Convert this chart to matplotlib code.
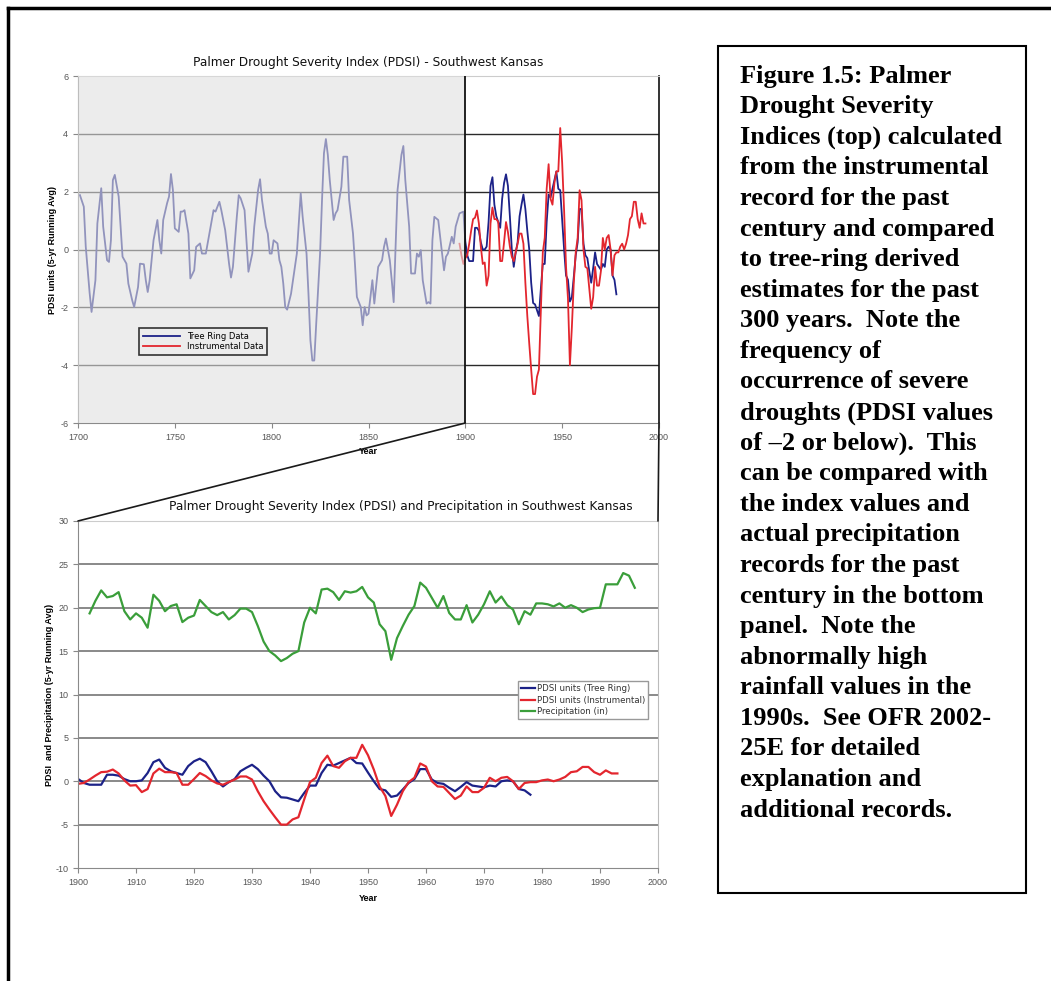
import matplotlib
matplotlib.use("Agg")
import matplotlib.pyplot as plt
from matplotlib.lines import Line2D
from matplotlib.patches import ConnectionPatch, Rectangle

plt.rcParams["axes.unicode_minus"] = False

# Tree-ring PDSI (5-yr running avg), 1700-1899
tree_years_early = [
    1701, 1703, 1704, 1706, 1707, 1709, 1710, 1712, 1713, 1715, 1716, 1717, 1718,
    1719, 1721, 1722, 1723, 1725, 1726, 1728, 1729, 1731, 1732, 1734, 1735, 1736,
    1737, 1739, 1741, 1742, 1743, 1744, 1746, 1747, 1748, 1749, 1750, 1752, 1753,
    1754, 1755, 1757, 1758, 1760, 1761, 1763, 1764, 1766, 1768, 1770, 1771, 1773,
    1774, 1776, 1778, 1779, 1780, 1782, 1783, 1784, 1786, 1787, 1788, 1790, 1791,
    1793, 1794, 1795, 1797, 1798, 1799, 1800, 1801, 1803, 1804, 1805, 1806, 1807,
    1808, 1810, 1811, 1813, 1815, 1816, 1818, 1819, 1820, 1821, 1822, 1823, 1825,
    1826, 1827, 1828, 1829, 1830, 1832, 1833, 1834, 1836, 1837, 1839, 1840, 1842,
    1843, 1844, 1846, 1847, 1848, 1849, 1850, 1852, 1853, 1855, 1857, 1858, 1859,
    1861, 1862, 1863, 1864, 1865, 1867, 1868, 1869, 1871, 1872, 1874, 1875, 1876,
    1877, 1878, 1880, 1881, 1882, 1883, 1884, 1886, 1888, 1889, 1890, 1891, 1893,
    1894, 1895, 1897, 1899,
]
tree_pdsi_early = [
    1.88, 1.48, 0.10, -1.50, -2.16, -1.06, 0.90, 2.12, 0.79, -0.37, -0.43, 0.32, 2.40,
    2.58, 1.83, 0.79, -0.25, -0.49, -1.18, -1.76, -1.99, -1.30, -0.49, -0.51, -1.06, -1.47,
    -1.06, 0.32, 1.02, 0.32, -0.14, 1.02, 1.60, 1.83, 2.61, 2.06, 0.73, 0.61, 1.31,
    1.31, 1.36, 0.55, -1.00, -0.72, 0.09, 0.21, -0.14, -0.14, 0.61, 1.36, 1.31, 1.65,
    1.36, 0.67, -0.49, -0.97, -0.60, 1.13, 1.88, 1.77, 1.36, 0.32, -0.77, -0.14, 0.79,
    2.06, 2.43, 1.71, 0.79, 0.55, -0.14, -0.14, 0.32, 0.21, -0.37, -0.60, -1.18, -1.99,
    -2.08, -1.53, -1.06, -0.14, 1.94, 1.13, -0.14, -1.53, -3.14, -3.84, -3.84, -2.57, -0.14,
    1.71, 3.33, 3.82, 3.27, 2.40, 1.02, 1.25, 1.36, 2.17, 3.21, 3.21, 1.71, 0.55,
    -0.49, -1.64, -1.99, -2.62, -1.99, -2.28, -2.22, -1.06, -1.87, -0.60, -0.37, 0.09, 0.38,
    -0.37, -1.06, -1.82, 0.09, 2.06, 3.27, 3.58, 2.40, 0.79, -0.83, -0.83, -0.14, -0.25,
    -0.02, -1.06, -1.87, -1.82, -1.87, 0.32, 1.13, 1.02, -0.14, -0.72, -0.25, -0.14, 0.44,
    0.21, 0.79, 1.25, 1.31,
]

# Tree-ring PDSI, 1900-1978 (both panels)
tree_years_late = list(range(1900, 1979))
tree_pdsi_late = [
    0.27, -0.2, -0.4, -0.4, -0.4, 0.75, 0.75, 0.65, 0.25, 0.0,
    0.0, 0.1, 0.95, 2.2, 2.5, 1.55, 1.15, 0.95, 0.75, 1.75,
    2.3, 2.6, 2.2, 1.15, 0.0, -0.6, -0.1, 0.25, 1.15, 1.55,
    1.9, 1.4, 0.65, 0.0, -1.15, -1.85, -1.9, -2.1, -2.3, -1.35,
    -0.5, -0.5, 0.95, 1.9, 1.8, 2.1, 2.4, 2.7, 2.1, 2.05,
    1.0, 0.0, -0.9, -1.05, -1.8, -1.65, -0.95, -0.2, 0.25, 1.4,
    1.4, 0.2, -0.2, -0.3, -0.75, -1.15, -0.65, -0.1, -0.5, -0.6,
    -0.7, -0.5, -0.6, 0.0, 0.1, 0.0, -0.9, -1.05, -1.55,
]

# Instrumental PDSI, 1897-1993
inst_years = list(range(1897, 1994))
inst_pdsi = [
    0.2, -0.2, -0.5, -0.3, -0.2, 0.2, 0.65, 1.05, 1.1, 1.35,
    0.9, 0.1, -0.5, -0.45, -1.25, -0.9, 0.9, 1.45, 1.05, 1.05,
    0.95, -0.4, -0.4, 0.25, 0.95, 0.6, 0.1, -0.25, -0.4, -0.1,
    0.2, 0.55, 0.55, 0.2, -1.15, -2.3, -3.25, -4.15, -5.0, -5.0,
    -4.4, -4.15, -2.1, -0.1, 0.4, 2.1, 2.95, 1.75, 1.55, 2.3,
    2.7, 2.7, 4.2, 3.0, 1.35, -0.6, -1.7, -4.0, -2.7, -1.15,
    -0.1, 0.4, 2.05, 1.7, 0.0, -0.6, -0.65, -1.35, -2.05, -1.65,
    -0.6, -1.25, -1.25, -0.75, 0.4, 0.0, 0.4, 0.5, 0.0, -0.9,
    -0.2, -0.1, -0.1, 0.1, 0.2, 0.0, 0.2, 0.5, 1.05, 1.15,
    1.65, 1.65, 1.05, 0.75, 1.25, 0.9, 0.9,
]

# Precipitation (in), 1902-1996
precip_years = list(range(1902, 1997))
precip_in = [
    19.35, 20.8, 22.0, 21.2, 21.35, 21.8, 19.6, 18.65, 19.35, 18.85,
    17.7, 21.5, 20.8, 19.6, 20.2, 20.4, 18.35, 18.85, 19.1, 20.9,
    20.2, 19.5, 19.15, 19.5, 18.65, 19.15, 19.9, 19.9, 19.5, 17.9,
    16.1, 15.0, 14.5, 13.85, 14.2, 14.7, 15.0, 18.3, 20.0, 19.35,
    22.1, 22.2, 21.8, 20.9, 21.9, 21.75, 21.9, 22.4, 21.2, 20.6,
    18.1, 17.3, 14.0, 16.5, 17.9, 19.2, 20.2, 22.9, 22.3, 21.15,
    20.0, 21.35, 19.4, 18.65, 18.65, 20.3, 18.3, 19.2, 20.4, 21.9,
    20.6, 21.3, 20.3, 19.8, 18.1, 19.6, 19.2, 20.5, 20.5, 20.4,
    20.15, 20.5, 20.0, 20.3, 20.0, 19.5, 19.8, 19.95, 20.0, 22.7,
    22.7, 22.7, 24.0, 23.7, 22.3,
]

caption = [
    "Figure 1.5: Palmer",
    "Drought Severity",
    "Indices (top) calculated",
    "from the instrumental",
    "record for the past",
    "century and compared",
    "to tree-ring derived",
    "estimates for the past",
    "300 years.  Note the",
    "frequency of",
    "occurrence of severe",
    "droughts (PDSI values",
    "of \u20132 or below).  This",
    "can be compared with",
    "the index values and",
    "actual precipitation",
    "records for the past",
    "century in the bottom",
    "panel.  Note the",
    "abnormally high",
    "rainfall values in the",
    "1990s.  See OFR 2002-",
    "25E for detailed",
    "explanation and",
    "additional records.",
]

NAVY = "#1c2288"
RED = "#e3262e"
GREEN = "#3a9e3a"
W, H = 1051, 981


def px(x, y):
    """pixel position (from top-left) -> figure fraction"""
    return x / W, 1 - y / H


def style_axes(ax):
    ax.tick_params(axis="both", labelsize=6.5, labelcolor="#555555", colors="#888888",
                   length=3.5, width=0.8, direction="out")
    for lab in ax.get_xticklabels() + ax.get_yticklabels():
        lab.set_color("#555555")
        lab.set_family("Liberation Sans")
    ax.spines["left"].set_color("#8a8a8a")
    ax.spines["bottom"].set_color("#8a8a8a")
    ax.spines["top"].set_color("#cccccc")


fig = plt.figure(figsize=(W / 100, H / 100), dpi=100)

# ---- top panel: 300-yr record
ax1 = fig.add_axes([78 / W, 1 - 423 / H, 581 / W, 347 / H])
ax1.plot(tree_years_early + tree_years_late, tree_pdsi_early + tree_pdsi_late,
         color=NAVY, lw=1.3, zorder=2, label="Tree Ring Data")
ax1.plot(inst_years, inst_pdsi, color=RED, lw=1.3, zorder=2, label="Instrumental Data")
ax1.set_xlim(1700, 2000)
ax1.set_ylim(-6, 6)
ax1.set_xticks(range(1700, 2001, 50))
ax1.set_yticks(range(-6, 7, 2))
ax1.yaxis.grid(True, color="#2a2a2a", lw=1.0)
ax1.set_axisbelow(True)
for gl in (ax1.get_ygridlines()[0], ax1.get_ygridlines()[-1]):
    gl.set_visible(False)
# shaded pre-instrumental part
ax1.add_patch(Rectangle((1700, -6), 200, 12, facecolor="#e0e0e0", alpha=0.6,
                        edgecolor="none", zorder=4))
ax1.axvline(1900, color="#111111", lw=1.3, zorder=6)
style_axes(ax1)
ax1.spines["right"].set_color("#111111")
ax1.spines["right"].set_linewidth(1.2)
ax1.set_title("Palmer Drought Severity Index (PDSI) - Southwest Kansas",
              fontsize=8.7, pad=7, color="#111111")
ax1.set_ylabel("PDSI units (5-yr Running Avg)", fontsize=6.5, fontweight="bold",
               family="Liberation Sans")
ax1.yaxis.set_label_coords(-0.036, 0.5)
ax1.set_xlabel("Year", fontsize=6.5, fontweight="bold", family="Liberation Sans")
ax1.xaxis.set_label_coords(0.5, -0.068)
leg1 = ax1.legend(loc="upper left", bbox_to_anchor=(0.098, 0.285), fontsize=6,
                  handlelength=4.5, borderpad=0.45, labelspacing=0.15,
                  fancybox=False, edgecolor="#333333", facecolor="#ececec", framealpha=1)
leg1.get_frame().set_linewidth(1.2)
leg1.set_zorder(7)

# ---- bottom panel: 20th century
ax2 = fig.add_axes([78 / W, 1 - 868 / H, 580 / W, 347 / H])
ax2.plot(tree_years_late, tree_pdsi_late, color=NAVY, lw=1.6, label="PDSI units (Tree Ring)")
ax2.plot(inst_years, inst_pdsi, color=RED, lw=1.6, label="PDSI units (Instrumental)")
ax2.plot(precip_years, precip_in, color=GREEN, lw=1.6, label="Precipitation (in)")
ax2.set_xlim(1900, 2000)
ax2.set_ylim(-10, 30)
ax2.set_xticks(range(1900, 2001, 10))
ax2.set_yticks(range(-10, 31, 5))
ax2.yaxis.grid(True, color="#6a6a6a", lw=1.1)
ax2.set_axisbelow(True)
for gl in (ax2.get_ygridlines()[0], ax2.get_ygridlines()[-1]):
    gl.set_visible(False)
style_axes(ax2)
ax2.spines["right"].set_color("#bbbbbb")
ax2.set_title("Palmer Drought Severity Index (PDSI) and Precipitation in Southwest Kansas",
              fontsize=8.7, pad=8, x=0.557, color="#111111")
ax2.set_ylabel("PDSI  and Precipitation (5-yr Running Avg)", fontsize=6.5,
               fontweight="bold", family="Liberation Sans")
ax2.yaxis.set_label_coords(-0.041, 0.5)
ax2.set_xlabel("Year", fontsize=6.5, fontweight="bold", family="Liberation Sans")
ax2.xaxis.set_label_coords(0.5, -0.074)
leg2 = ax2.legend(loc="upper left", bbox_to_anchor=(0.752, 0.55), fontsize=6.2,
                  handlelength=1.6, handletextpad=0.2, borderpad=0.35, labelspacing=0.25,
                  fancybox=False, edgecolor="#999999", framealpha=1)
for t in leg2.get_texts():
    t.set_color("#333333")

# zoom connectors between the panels
for yr in (1900, 2000):
    fig.add_artist(ConnectionPatch(xyA=(yr, -6), coordsA=ax1.transData,
                                   xyB=(yr, 30), coordsB=ax2.transData,
                                   color="#1a1a1a", lw=1.2))

# page frame and caption box
fig.add_artist(Line2D(*zip(px(8, 8), px(W, 8)), transform=fig.transFigure,
                      color="black", lw=2.5))
fig.add_artist(Line2D(*zip(px(8, 8), px(8, H)), transform=fig.transFigure,
                      color="black", lw=2.5))
x0, y0 = px(718, 893)
fig.add_artist(Rectangle((x0, y0), (1026 - 718) / W, (893 - 46) / H,
                         transform=fig.transFigure, fill=False, ec="black", lw=1.5))
for i, line in enumerate(caption):
    fig.text(*px(740, 82.7 + 30.58 * i), line, family="Liberation Serif",
             fontweight="bold", fontsize=19, va="baseline", ha="left")

fig.savefig("out.png", dpi=100)
